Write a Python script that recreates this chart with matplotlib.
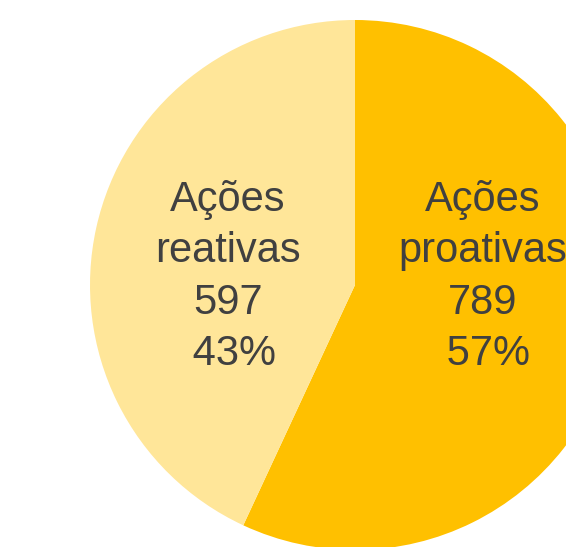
import matplotlib.pyplot as plt

labels = ["Ações\nproativas", "Ações\nreativas"]
values = [789, 597]
colors = ["#FFC000", "#FFE699"]

total = sum(values)
pcts = [round(v / total * 100) for v in values]

# pie centre and radius in pixels of the 566x547 image
cx, cy, r = 355, 285, 265
W, H = 566, 547

fig = plt.figure(figsize=(W / 100, H / 100), dpi=100)
ax = fig.add_axes([0, 0, 1, 1])
ax.pie(values, colors=colors, startangle=90, counterclock=False,
       radius=1, wedgeprops=dict(linewidth=0))
ax.set_xlim(-cx / r, (W - cx) / r)
ax.set_ylim(-(H - cy) / r, cy / r)
ax.set_aspect("equal")
ax.axis("off")

label_x = [0.483, -0.479]
for lab, v, p, x in zip(labels, values, pcts, label_x):
    ax.text(x, 0.03, f"{lab}\n{v}\n {p}%", ha="center", va="center",
            fontsize=30, color="#404040", family="Liberation Sans",
            linespacing=1.36)

fig.savefig("out.png", dpi=100)
